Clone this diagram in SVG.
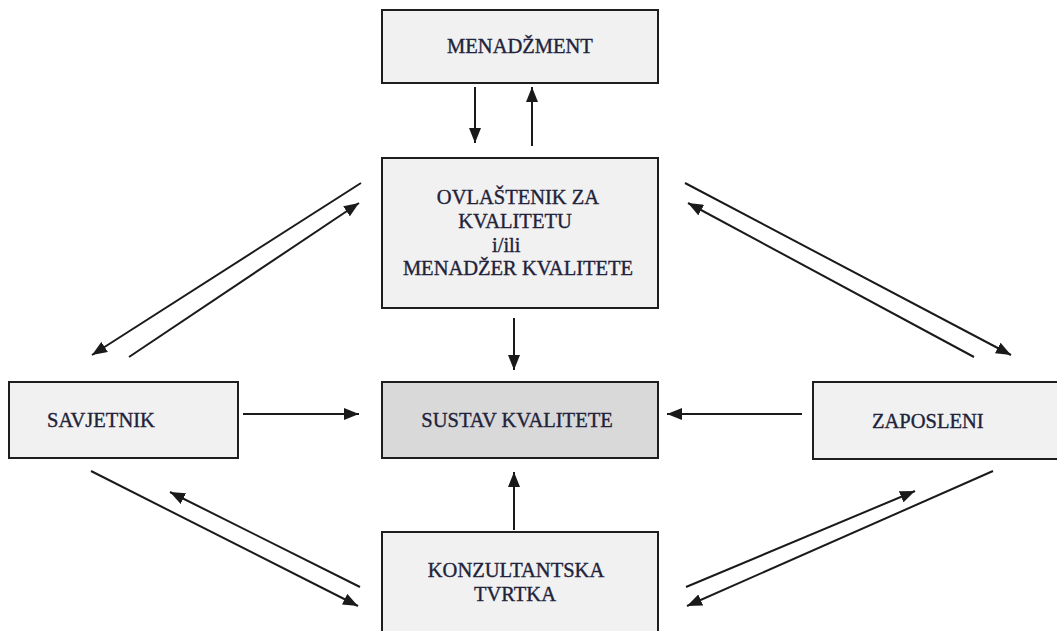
<svg xmlns="http://www.w3.org/2000/svg" width="1057" height="631" viewBox="0 0 1057 631">
<style>
.box{fill:#f1f1f1;stroke:#1e1e1e;stroke-width:2}
.dark{fill:#d9d9d9}
.t{font-family:"Liberation Serif","Times New Roman",serif;font-size:20.5px;fill:#22223a;stroke:#22223a;stroke-width:0.35}
.c{text-anchor:middle}
.ln{stroke:#1a1a1a;stroke-width:2;fill:none;marker-end:url(#ah)}
</style>
<defs>
<marker id="ah" markerUnits="userSpaceOnUse" markerWidth="16" markerHeight="12" refX="15" refY="6" orient="auto">
<path d="M0,0 L15,6 L0,12 z" fill="#1a1a1a"/>
</marker>
</defs>
<rect width="1057" height="631" fill="#ffffff"/>
<g id="menadzment">
<rect class="box" x="382" y="10" width="276" height="73"/>
<text class="t c" x="520" y="53">MENADŽMENT</text>
</g>
<g id="ovlastenik">
<rect class="box" x="382" y="158" width="276" height="150"/>
<text class="t c" x="518" y="204">OVLAŠTENIK ZA</text>
<text class="t c" x="515" y="228">KVALITETU</text>
<text class="t" x="492" y="252">i/ili</text>
<text class="t c" x="518" y="275">MENADŽER KVALITETE</text>
</g>
<g id="savjetnik">
<rect class="box" x="9" y="382" width="229" height="76"/>
<text class="t" x="47" y="427">SAVJETNIK</text>
</g>
<g id="sustav">
<rect class="box dark" x="382" y="382" width="276" height="76"/>
<text class="t c" x="517" y="427">SUSTAV KVALITETE</text>
</g>
<g id="zaposleni">
<rect class="box" x="813" y="382" width="260" height="77"/>
<text class="t" x="872" y="428">ZAPOSLENI</text>
</g>
<g id="konzultantska">
<rect class="box" x="382" y="532" width="276" height="110"/>
<text class="t c" x="516" y="577">KONZULTANTSKA</text>
<text class="t c" x="515" y="601">TVRTKA</text>
</g>
<g id="connectors">
<line class="ln" x1="475" y1="87" x2="475" y2="143"/>
<line class="ln" x1="532" y1="146" x2="532" y2="87"/>
<line class="ln" x1="361" y1="183" x2="92" y2="355"/>
<line class="ln" x1="129" y1="357" x2="359" y2="203"/>
<line class="ln" x1="685" y1="183" x2="1011" y2="355"/>
<line class="ln" x1="974" y1="357" x2="688" y2="203"/>
<line class="ln" x1="514" y1="318" x2="514" y2="370"/>
<line class="ln" x1="243" y1="414" x2="359" y2="414"/>
<line class="ln" x1="802" y1="414" x2="667" y2="414"/>
<line class="ln" x1="514" y1="530" x2="514" y2="472"/>
<line class="ln" x1="91" y1="471" x2="358" y2="606"/>
<line class="ln" x1="360" y1="587" x2="170" y2="492"/>
<line class="ln" x1="686" y1="587" x2="915" y2="491"/>
<line class="ln" x1="993" y1="471" x2="687" y2="606"/>
</g>
</svg>
